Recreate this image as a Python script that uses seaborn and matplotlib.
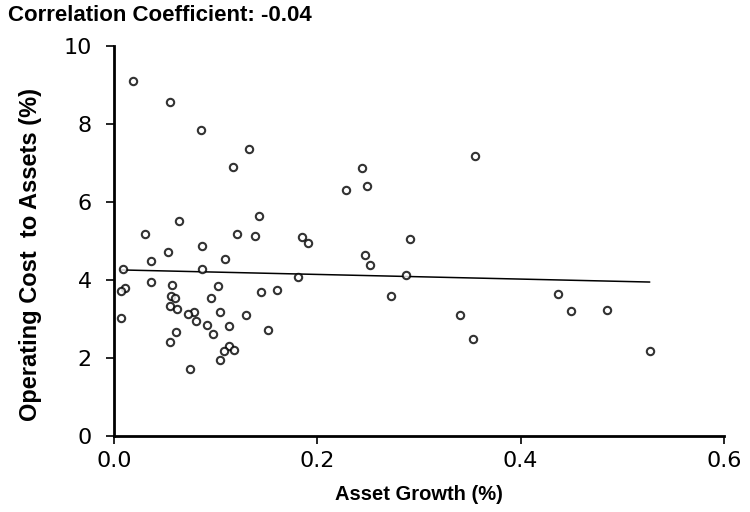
import numpy as np
import pandas as pd
import matplotlib
matplotlib.use("Agg")
import matplotlib.pyplot as plt
import seaborn as sns

asset_growth = [0.019, 0.0548, 0.0856, 0.1325, 0.1167, 0.143, 0.0643, 0.0305, 0.1213, 0.139,
                0.1846, 0.191, 0.0862, 0.0534, 0.0364, 0.1095, 0.0085, 0.0862, 0.0361, 0.057,
                0.1023, 0.0108, 0.0069, 0.1446, 0.1607, 0.1807, 0.0561, 0.060, 0.0951, 0.0548,
                0.062, 0.079, 0.0731, 0.104, 0.130, 0.0069, 0.081, 0.0912, 0.1134, 0.1512,
                0.061, 0.0977, 0.0548, 0.1134, 0.1183, 0.1085, 0.1046, 0.075, 0.355, 0.244,
                0.2488, 0.2279, 0.2911, 0.2472, 0.2518, 0.2875, 0.2727, 0.340, 0.3528, 0.437,
                0.4495, 0.4849, 0.527]
operating_cost = [9.11, 8.57, 7.85, 7.35, 6.89, 5.65, 5.50, 5.18, 5.18, 5.14,
                  5.11, 4.94, 4.87, 4.71, 4.49, 4.55, 4.28, 4.27, 3.95, 3.87,
                  3.85, 3.80, 3.71, 3.70, 3.74, 4.08, 3.59, 3.54, 3.54, 3.33,
                  3.26, 3.18, 3.12, 3.17, 3.09, 3.02, 2.94, 2.85, 2.81, 2.73,
                  2.66, 2.62, 2.40, 2.30, 2.21, 2.17, 1.96, 1.72, 7.19, 6.87,
                  6.42, 6.30, 5.06, 4.65, 4.39, 4.14, 3.60, 3.09, 2.50, 3.64,
                  3.20, 3.22, 2.17]
x_ticks = [0.0, 0.2, 0.4, 0.6]
x_tick_labels = ["0.0", "0.2", "0.4", "0.6"]
y_ticks = [0, 2, 4, 6, 8, 10]
y_tick_labels = ["0", "2", "4", "6", "8", "10"]
title_text = "Correlation Coefficient: -0.04"
x_label = "Asset Growth (%)"
y_label = "Operating Cost  to Assets (%)"

df = pd.DataFrame({"growth": asset_growth, "cost": operating_cost})

sns.set_theme(style="ticks")
plt.rcParams["font.family"] = ["Liberation Sans", "DejaVu Sans"]
plt.rcParams["text.color"] = "black"
plt.rcParams["axes.labelcolor"] = "black"
plt.rcParams["xtick.color"] = "black"
plt.rcParams["ytick.color"] = "black"

fig = plt.figure(figsize=(7.5, 5.12), dpi=100)
ax = fig.add_axes([0.152, 0.1484, 0.8133, 0.7618])

sns.regplot(data=df, x="growth", y="cost", ax=ax, ci=None,
            scatter_kws=dict(s=28, marker="o", facecolors="white",
                             edgecolors="black", linewidths=1.5, zorder=3),
            line_kws=dict(color="black", lw=1.1, zorder=2))

ax.set_xlim(0, 0.6)
ax.set_ylim(0, 10)
ax.set_xticks(x_ticks)
ax.set_xticklabels(x_tick_labels)
ax.set_yticks(y_ticks)
ax.set_yticklabels(y_tick_labels)
for lab in ax.get_xticklabels() + ax.get_yticklabels():
    lab.set_fontfamily(["DejaVu Sans"])
    lab.set_fontsize(16)
    lab.set_color("black")
ax.tick_params(axis="both", direction="out", length=6, width=1.2, color="black")
ax.tick_params(axis="y", pad=10)
ax.tick_params(axis="x", pad=5)

sns.despine(ax=ax)
for s in ["left", "bottom"]:
    ax.spines[s].set_linewidth(2.0)
    ax.spines[s].set_color("black")

ax.set_xlabel(x_label, fontsize=14.5, fontweight="bold", color="black",
              family=["Liberation Sans Narrow", "Liberation Sans"], labelpad=10)
ax.set_ylabel(y_label, fontsize=17, fontweight="bold", color="black",
              family=["Liberation Sans Narrow", "Liberation Sans"])
ax.yaxis.set_label_coords(-0.118, 0.465)

fig.text(0.011, 0.969, title_text, fontsize=16, fontweight="bold", color="black",
         ha="left", va="center", family=["Liberation Sans", "DejaVu Sans"])

fig.savefig("out.png", dpi=100, facecolor="white")
